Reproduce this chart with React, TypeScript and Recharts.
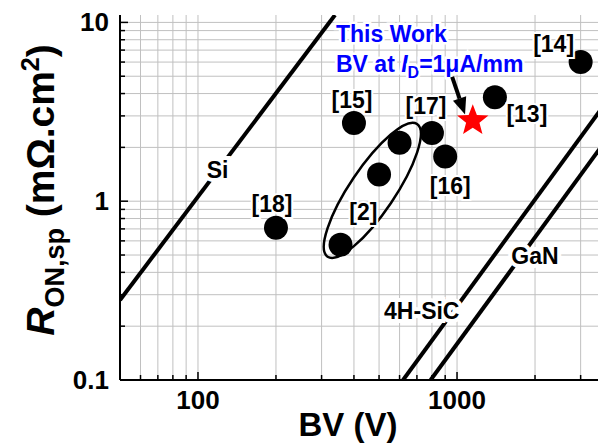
import React from 'react';
import {
  ScatterChart,
  Scatter,
  XAxis,
  YAxis,
  CartesianGrid,
  ReferenceDot,
  Customized,
} from 'recharts';

const FONT = '"Liberation Sans", Arial, Helvetica, sans-serif';

// Published devices: breakdown voltage (V) and specific on-resistance (mΩ·cm²)
const refNames = ['[18]', '[15]', '[2]', '[2]', '[2]', '[17]', '[16]', '[13]', '[14]'];
const refBV = [200, 400, 355, 500, 600, 800, 900, 1400, 3000];
const refRon = [0.71, 2.74, 0.57, 1.41, 2.12, 2.41, 1.78, 3.81, 6.0];

// This work
const workBV = [1150];
const workRon = [2.82];

// Material limit lines (end points)
const siBV = [50, 338];
const siRon = [0.28, 11];
const sicBV = [619, 4000];
const sicRon = [0.1, 4.04];
const ganBV = [791, 4000];
const ganRon = [0.1, 2.48];

// Line captions placed on the limit lines
const lineNames = ['Si', '4H-SiC', 'GaN'];
const lineNameBV = [119, 731, 2000];
const lineNameRon = [1.5, 0.243, 0.493];

// Group outline around the [2] devices and the arrow tip pointing at this work
const groupBV = [471];
const groupRon = [1.15];
const arrowTipBV = [1074];
const arrowTipRon = [3.05];

// Axis ticks
const xMajor = [100, 1000];
const xTicks = [60, 70, 80, 90, 100, 200, 300, 400, 500, 600, 700, 800, 900, 1000, 2000, 3000];
const yMajor = [0.1, 1, 10];
const yTicks = [0.1, 0.2, 0.3, 0.4, 0.5, 0.6, 0.7, 0.8, 0.9, 1, 2, 3, 4, 5, 6, 7, 8, 9, 10];

// Label placement relative to each device marker (px)
const labelOffsets: Record<string, [number, number]> = {
  '[18]': [-4, -24],
  '[15]': [-2, -23],
  '[17]': [-6, -27],
  '[16]': [5, 30],
  '[13]': [32, 17],
  '[14]': [-27, -18],
};

const toPoints = (xs: number[], ys: number[]) => xs.map((bv, i) => ({ bv, ron: ys[i] }));

const renderBottomTick = (props: any) => {
  const { x, y, payload } = props;
  const major = xMajor.includes(payload.value);
  return (
    <g>
      <line x1={x} x2={x} y1={y} y2={y - (major ? 8 : 5)} stroke="#000" strokeWidth={1.5} />
      {major && (
        <text x={x} y={y + 29} textAnchor="middle" fontFamily={FONT} fontWeight="bold" fontSize={26} fill="#000">
          {payload.value}
        </text>
      )}
    </g>
  );
};

const renderTopTick = (props: any) => {
  const { x, y, payload } = props;
  const major = xMajor.includes(payload.value);
  return <line x1={x} x2={x} y1={y} y2={y + (major ? 8 : 5)} stroke="#000" strokeWidth={1.5} />;
};

const renderLeftTick = (props: any) => {
  const { x, y, payload } = props;
  const major = yMajor.includes(payload.value);
  return (
    <g>
      <line x1={x} x2={x + (major ? 8 : 5)} y1={y} y2={y} stroke="#000" strokeWidth={1.5} />
      {major && (
        <text x={x - 11} y={y + 9} textAnchor="end" fontFamily={FONT} fontWeight="bold" fontSize={26} fill="#000">
          {payload.value}
        </text>
      )}
    </g>
  );
};

const renderRefPoint = (p: any) => {
  const { cx, cy, payload } = p;
  const off = labelOffsets[payload.name];
  return (
    <g>
      <circle cx={cx} cy={cy} r={12} fill="#000" />
      {off && (
        <text
          x={cx + off[0]}
          y={cy + off[1] + 8}
          textAnchor="middle"
          fontFamily={FONT}
          fontWeight="bold"
          fontSize={23}
          fill="#000"
          stroke="#fff"
          strokeWidth={4}
          paintOrder="stroke"
        >
          {payload.name}
        </text>
      )}
    </g>
  );
};

const starPoints = (cx: number, cy: number, R: number, r: number) => {
  const pts: string[] = [];
  for (let i = 0; i < 10; i++) {
    const a = ((-90 + i * 36) * Math.PI) / 180;
    const rad = i % 2 === 0 ? R : r;
    pts.push(`${(cx + rad * Math.cos(a)).toFixed(2)},${(cy + rad * Math.sin(a)).toFixed(2)}`);
  }
  return pts.join(' ');
};

const renderStar = (p: any) => <polygon points={starPoints(p.cx, p.cy, 16.5, 7)} fill="#ff0000" />;

const renderNothing = () => <g />;

const renderGroup = (p: any) => {
  const { cx, cy } = p;
  return (
    <g>
      <ellipse
        cx={cx}
        cy={cy}
        rx={80}
        ry={22.5}
        transform={`rotate(-56 ${cx} ${cy})`}
        fill="none"
        stroke="#000"
        strokeWidth={2.5}
      />
      <text
        x={cx - 9}
        y={cy + 30}
        textAnchor="middle"
        fontFamily={FONT}
        fontWeight="bold"
        fontSize={23}
        fill="#000"
        stroke="#fff"
        strokeWidth={4}
        paintOrder="stroke"
      >
        [2]
      </text>
    </g>
  );
};

const renderArrow = (p: any) => {
  const { cx, cy } = p;
  // direction of the arrow (tail to tip)
  const ux = 0.323;
  const uy = 0.945;
  const headLen = 17;
  const half = 7;
  const bx = cx - ux * headLen;
  const by = cy - uy * headLen;
  return (
    <g>
      <line x1={cx - ux * 40} y1={cy - uy * 40} x2={bx} y2={by} stroke="#000" strokeWidth={4} />
      <polygon
        points={`${cx},${cy} ${bx + uy * half},${by - ux * half} ${bx - uy * half},${by + ux * half}`}
        fill="#000"
      />
    </g>
  );
};

const makeLineCaption = (text: string) => (p: any) => (
  <text
    x={p.cx}
    y={p.cy + 8}
    textAnchor="middle"
    fontFamily={FONT}
    fontWeight="bold"
    fontSize={23}
    fill="#000"
    stroke="#fff"
    strokeWidth={8}
    paintOrder="stroke"
  >
    {text}
  </text>
);

const Titles = () => (
  <g fontFamily={FONT} fontWeight="bold">
    <text x={328} y={34} fontSize={23} fill="#0000ff" stroke="#fff" strokeWidth={5} paintOrder="stroke">
      This Work
    </text>
    <text x={328} y={64} fontSize={23} fill="#0000ff" stroke="#fff" strokeWidth={5} paintOrder="stroke">
      BV at <tspan fontStyle="italic">I</tspan>
      <tspan fontSize={16} dy={6}>D</tspan>
      <tspan dy={-6}>=1μA/mm</tspan>
    </text>
    <text x={340} y={428} textAnchor="middle" fontSize={33} fill="#000">
      BV (V)
    </text>
    <text transform="translate(46,182) rotate(-90)" textAnchor="middle" fontSize={39} fill="#000">
      <tspan fontStyle="italic">R</tspan>
      <tspan fontSize={27} dy={10}>ON,sp</tspan>
      <tspan dy={-10}> (mΩ.cm</tspan>
      <tspan fontSize={25} dy={-15}>2</tspan>
      <tspan dy={15}>)</tspan>
    </text>
  </g>
);

export default function App() {
  const refData = refBV.map((bv, i) => ({ bv, ron: refRon[i], name: refNames[i] }));
  const workData = toPoints(workBV, workRon);
  const siData = toPoints(siBV, siRon);
  const sicData = toPoints(sicBV, sicRon);
  const ganData = toPoints(ganBV, ganRon);

  return (
    <div style={{ width: 598, height: 439, overflow: 'hidden' }}>
      <style>{'html,body{overflow:hidden}'}</style>
      <ScatterChart width={612} height={439} margin={{ top: 7, right: 7, bottom: 0, left: 0 }}>
        <CartesianGrid stroke="#c0c0c0" strokeWidth={1} verticalValues={xTicks} horizontalValues={yTicks} />
        <XAxis
          dataKey="bv"
          type="number"
          scale="log"
          domain={[50, 4000]}
          allowDataOverflow
          ticks={xTicks}
          interval={0}
          height={67}
          tickSize={0}
          tickMargin={0}
          tickLine={false}
          tick={renderBottomTick}
          axisLine={{ stroke: '#000', strokeWidth: 2 }}
        />
        <XAxis
          xAxisId="top"
          orientation="top"
          dataKey="bv"
          type="number"
          scale="log"
          domain={[50, 4000]}
          allowDataOverflow
          ticks={xTicks}
          interval={0}
          height={0}
          tickSize={0}
          tickMargin={0}
          tickLine={false}
          tick={renderTopTick}
          axisLine={{ stroke: '#000', strokeWidth: 2 }}
        />
        <YAxis
          dataKey="ron"
          type="number"
          scale="log"
          domain={[0.1, 11]}
          allowDataOverflow
          ticks={yTicks}
          interval={0}
          width={112}
          tickSize={0}
          tickMargin={0}
          tickLine={false}
          tick={renderLeftTick}
          axisLine={{ stroke: '#000', strokeWidth: 2 }}
        />
        <Scatter data={siData} shape={renderNothing} line={{ stroke: '#000', strokeWidth: 4 }} isAnimationActive={false} />
        <Scatter data={sicData} shape={renderNothing} line={{ stroke: '#000', strokeWidth: 4 }} isAnimationActive={false} />
        <Scatter data={ganData} shape={renderNothing} line={{ stroke: '#000', strokeWidth: 4 }} isAnimationActive={false} />
        <ReferenceDot x={groupBV[0]} y={groupRon[0]} r={1} shape={renderGroup} zIndex={650} />
        <Scatter data={refData} shape={renderRefPoint} isAnimationActive={false} />
        <Scatter data={workData} shape={renderStar} isAnimationActive={false} />
        {lineNames.map((name, i) => (
          <ReferenceDot
            key={name}
            x={lineNameBV[i]}
            y={lineNameRon[i]}
            r={1}
            shape={makeLineCaption(name)}
            zIndex={700}
          />
        ))}
        <ReferenceDot x={arrowTipBV[0]} y={arrowTipRon[0]} r={1} shape={renderArrow} zIndex={700} />
        <Customized component={<Titles />} />
      </ScatterChart>
    </div>
  );
}
